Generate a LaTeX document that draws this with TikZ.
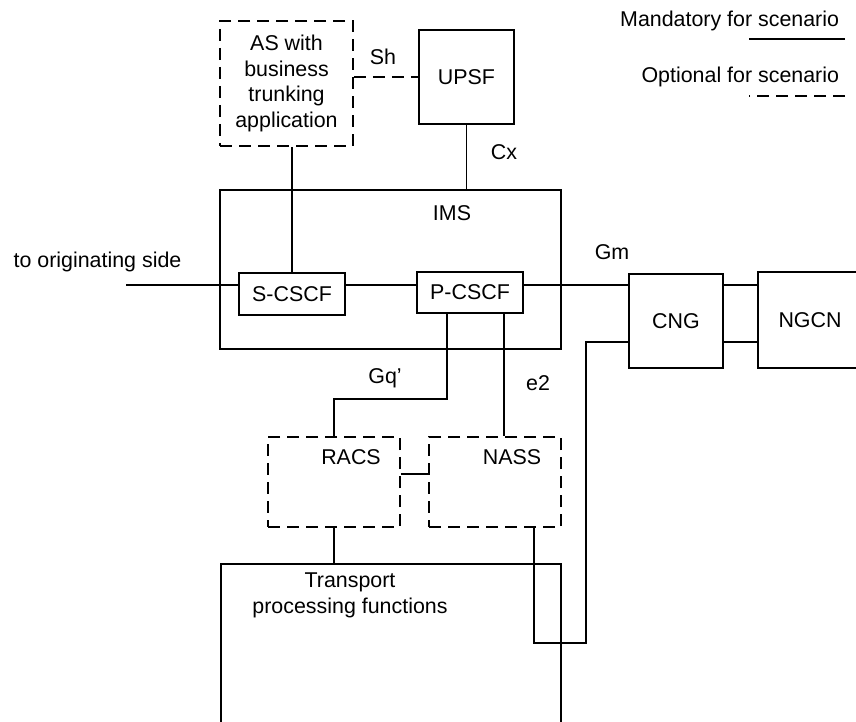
\documentclass[tikz,border=0pt]{standalone}
\usepackage{fontspec}
\setmainfont{Liberation Sans}
\begin{document}
\begin{tikzpicture}[x=1pt,y=-1pt,line width=1.9pt,
	every node/.style={font=\fontsize{21.4}{25.8}\selectfont,inner sep=0pt},
	ent/.style={draw,rectangle,align=center},
	opt/.style={dash pattern=on 12pt off 7pt}]
	\useasboundingbox (0,0) rectangle (856,722);

	% AS et UPSF
	\node[ent,opt,minimum width=133,minimum height=125] (as) at (286.5,83.5) {AS with\\business\\trunking\\application};
	\node[ent,minimum width=95,minimum height=94] (upsf) at (466.5,77) {UPSF};
	\draw[opt] (as.east |- upsf.west) -- (upsf.west);
	\node (sh) at (383,57) {Sh};

	% IMS
	\node[ent,minimum width=341,minimum height=159] (ims) at (390.5,269.5) {};
	\node (imslbl) at (452,213) {IMS};
	\draw (upsf.south) -- (upsf.south |- ims.north);
	\node (cx) at (504,152) {Cx};
	\node[ent,minimum width=106,minimum height=42] (scscf) at (292,294) {S-CSCF};
	\node[ent,minimum width=106,minimum height=41] (pcscf) at (470,292.5) {P-CSCF};
	\draw (scscf.north) -- (scscf.north |- as.south);

	\coordinate (orig) at (126,285);
	\node (origlbl) at (97.5,262) {to originating side};
	\draw (orig) -- (orig -| scscf.west);
	\draw (scscf.east |- orig) -- (pcscf.west |- orig);

	% CNG et NGCN
	\node[ent,minimum width=94,minimum height=94] (cng) at (676,321) {CNG};
	\node[ent,minimum width=104,minimum height=96] (ngcn) at (810,320) {NGCN};
	\draw (pcscf.east |- orig) -- (cng.west |- orig);
	\node (gm) at (612,252) {Gm};
	\coordinate (low) at (0,342);
	\draw (cng.east |- orig) -- (ngcn.west |- orig);
	\draw (cng.east |- low) -- (ngcn.west |- low);

	% RACS, NASS
	\node[ent,opt,minimum width=132,minimum height=90] (racs) at (334,482) {};
	\node (racslbl) at (351,457) {RACS};
	\node[ent,opt,minimum width=132,minimum height=90] (nass) at (495,482) {};
	\node (nasslbl) at (512,457) {NASS};
	\draw ([yshift=8]racs.east) -- ([yshift=8]nass.west);
	\coordinate (gq) at (0,399);
	\draw ([xshift=-23]pcscf.south) |- (gq -| racs.north) -- (racs.north);
	\node (gqlbl) at (385,378) {Gq’};
	\draw ([xshift=34]pcscf.south) -- ([xshift=34]pcscf.south |- nass.north);
	\node (e2) at (538,383) {e2};

	% transport
	\node[ent,minimum width=340,minimum height=180] (tpf) at (391,654) {};
	\node[align=center] (tpflbl) at (350,595) {Transport\\processing functions};
	\draw (racs.south) -- (racs.south |- tpf.north);
	\coordinate (bend) at (586,643);
	\draw ([xshift=39]nass.south) |- (bend) |- (cng.west |- low);

	% legende
	\node[anchor=base east] (mandlbl) at (840,27) {Mandatory for scenario};
	\coordinate (mandr) at (845,39);
	\draw (mandr) -- ++(-96,0);
	\node[anchor=base east] (optlbl) at (840,83) {Optional for scenario};
	\coordinate (optr) at (845,96);
	\draw[opt] (optr) -- ++(-96,0);
\end{tikzpicture}
\end{document}
